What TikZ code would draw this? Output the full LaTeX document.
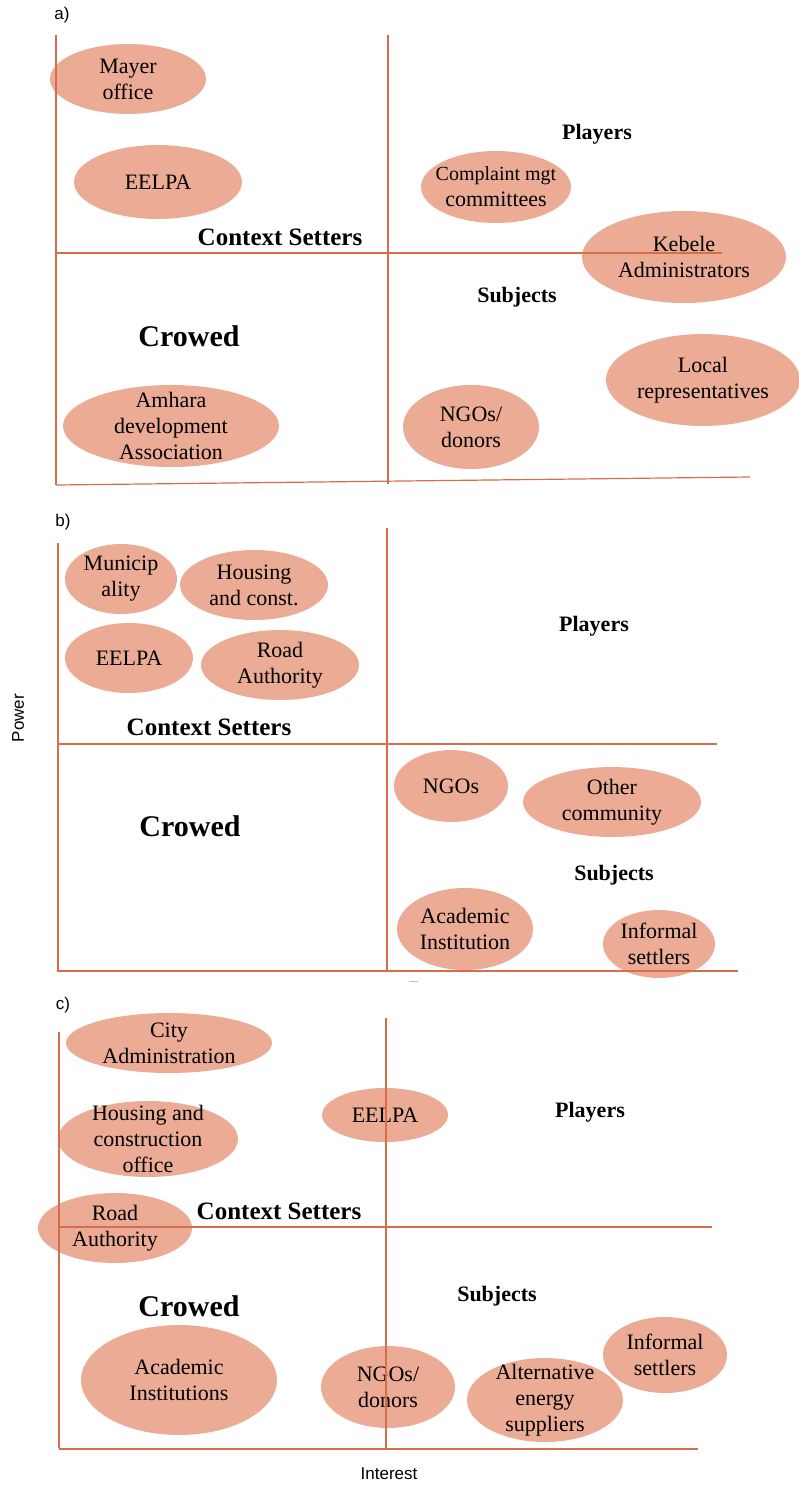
\documentclass[tikz,border=0pt]{standalone}
\usepackage{fontspec}
\setmainfont{Liberation Serif}
\setsansfont{Liberation Sans}
\definecolor{ellfill}{RGB}{235,171,148}
\definecolor{axiscol}{RGB}{214,110,75}
\newcommand\blob[6]{\fill[ellfill] (#2,#3) ellipse [x radius=#4, y radius=#5]; \node[lbl] (#1) at (#2,#3) {#6};}
\begin{document}
\begin{tikzpicture}[x=1pt,y=-1pt,
  ax/.style={draw=axiscol, line width=1.2pt},
  lbl/.style={font=\fontsize{22}{26}\selectfont, align=center, inner sep=0pt},
  quad/.style={font=\bfseries\fontsize{22}{26}\selectfont, inner sep=0pt},
  ctx/.style={font=\bfseries\fontsize{25}{28}\selectfont, inner sep=0pt},
  crow/.style={font=\bfseries\fontsize{30}{32}\selectfont, inner sep=0pt},
  tag/.style={font=\sffamily\fontsize{17}{20}\selectfont, inner sep=0pt}]
\useasboundingbox (0,0) rectangle (798,1485);
% ---------------- panel a ----------------
\node[tag] (la) at (62,15) {a)};
\blob{amayer}{128}{79}{78}{35}{Mayer\\office}
\blob{aeelpa}{158}{182}{84}{37}{EELPA}
\blob{acompl}{496}{187}{75}{36}{\fontsize{20}{26}\selectfont Complaint mgt\\committees}
\blob{akebele}{684}{257}{102}{46}{Kebele\\Administrators}
\blob{alocal}{703}{380}{97}{46}{Local\\representatives}
\blob{ango}{471}{427}{68}{42}{NGOs/\\donors}
\blob{aamhara}{171}{426}{108}{41}{Amhara\\development\\Association}
\node[ctx] (actx) at (280,237) {Context Setters};
\node[quad] (apl) at (597,134) {Players};
\node[quad] (asub) at (517,297) {Subjects};
\node[crow] (acrow) at (189,336) {Crowed};
\draw[ax] (56,35) -- (56,485);
\draw[ax] (388,35) -- (388,484);
\draw[ax] (56,253) -- (722,253);
\draw[ax] (56,485) -- (750,477);
% ---------------- panel b ----------------
\node[tag] (lb) at (63,522) {b)};
\blob{bmun}{121}{579}{56}{35}{Municip\\ality}
\blob{bhouse}{254}{585}{74}{35}{Housing\\and const.}
\blob{beelpa}{129}{658}{64}{35}{EELPA}
\blob{broad}{280}{665}{79}{35}{Road\\Authority}
\blob{bngo}{451}{786}{57}{36}{NGOs}
\blob{bother}{612}{802}{89}{35}{Other\\community}
\blob{bacad}{465}{929}{68}{41}{Academic\\Institution}
\blob{binf}{659}{944}{56}{34}{Informal\\settlers}
\node[ctx] (bctx) at (209,727) {Context Setters};
\node[quad] (bpl) at (594,626) {Players};
\node[quad] (bsub) at (614,875) {Subjects};
\node[crow] (bcrow) at (190,826) {Crowed};
\draw[ax] (58,543) -- (58,972);
\draw[ax] (387,528) -- (387,972);
\draw[ax] (58,744) -- (717,744);
\draw[ax] (58,971) -- (738,971);
\draw[gray!50, line width=1pt] (409,981) -- (418,981);
% ---------------- panel c ----------------
\node[tag] (lc) at (63,1005) {c)};
\blob{ccity}{169}{1043}{103}{30}{City\\Administration}
\blob{chouse}{148}{1139}{90}{38}{Housing and\\construction\\office}
\blob{ceelpa}{385}{1115}{63}{27}{EELPA}
\blob{croad}{115}{1228}{77}{35}{Road\\Authority}
\blob{cacad}{179}{1380}{98}{55}{Academic\\Institutions}
\blob{cngo}{388}{1387}{67}{41}{NGOs/\\donors}
\blob{calt}{545}{1400}{78}{42}{Alternative\\energy\\suppliers}
\blob{cinf}{665}{1355}{62}{38}{Informal\\settlers}
\node[ctx] (cctx) at (279,1211) {Context Setters};
\node[quad] (cpl) at (590,1112) {Players};
\node[quad] (csub) at (497,1296) {Subjects};
\node[crow] (ccrow) at (189,1306) {Crowed};
\draw[ax] (59,1032) -- (59,1448);
\draw[ax] (386,1018) -- (386,1449);
\draw[ax] (59,1227) -- (712,1227);
\draw[ax] (59,1449) -- (698,1449);
% ---------------- axis titles ----------------
\node[tag, rotate=90] (power) at (18,718) {Power};
\node[tag] (interest) at (389,1474) {Interest};
\end{tikzpicture}
\end{document}
